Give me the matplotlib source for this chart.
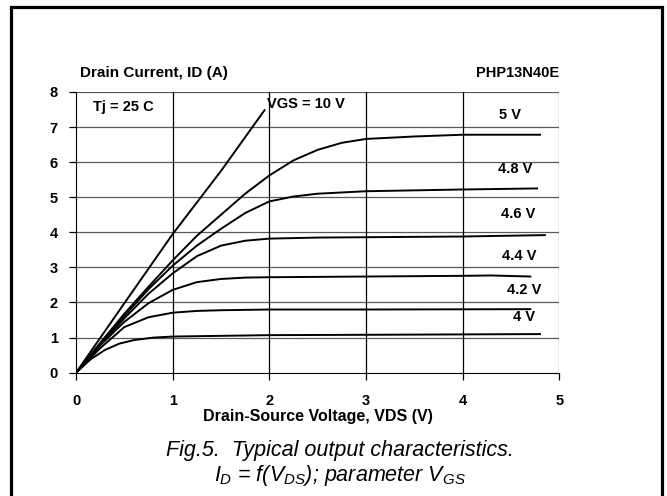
import matplotlib
matplotlib.use('Agg')
import matplotlib.pyplot as plt
from matplotlib.patches import Rectangle

# Output characteristics
vgs_10_x = [0, 0.5, 1.0, 1.5, 1.95]
vgs_10_y = [0, 1.98, 3.95, 5.75, 7.48]

vgs_5_x = [0, 0.25, 0.5, 0.75, 1.0, 1.25, 1.5, 1.75, 2.0, 2.25, 2.5, 2.75, 3.0, 3.5, 4.0, 4.8]
vgs_5_y = [0, 0.85, 1.68, 2.45, 3.2, 3.9, 4.5, 5.1, 5.62, 6.05, 6.35, 6.55, 6.66, 6.73, 6.78, 6.78]

vgs_48_x = [0, 0.25, 0.5, 0.75, 1.0, 1.25, 1.5, 1.75, 2.0, 2.25, 2.5, 3.0, 4.0, 4.77]
vgs_48_y = [0, 0.82, 1.62, 2.38, 3.05, 3.62, 4.1, 4.55, 4.88, 5.02, 5.1, 5.17, 5.22, 5.25]

vgs_46_x = [0, 0.25, 0.5, 0.75, 1.0, 1.25, 1.5, 1.75, 2.0, 2.5, 3.0, 4.0, 4.85]
vgs_46_y = [0, 0.8, 1.55, 2.25, 2.83, 3.32, 3.62, 3.76, 3.82, 3.85, 3.86, 3.88, 3.92]

vgs_44_x = [0, 0.25, 0.5, 0.75, 1.0, 1.25, 1.5, 1.75, 2.0, 3.0, 4.0, 4.3, 4.7]
vgs_44_y = [0, 0.78, 1.45, 1.98, 2.36, 2.58, 2.67, 2.71, 2.72, 2.74, 2.76, 2.77, 2.74]

vgs_42_x = [0, 0.25, 0.5, 0.75, 1.0, 1.25, 1.5, 2.0, 3.0, 4.7]
vgs_42_y = [0, 0.7, 1.3, 1.58, 1.71, 1.76, 1.78, 1.8, 1.8, 1.81]

vgs_40_x = [0, 0.15, 0.3, 0.45, 0.6, 0.8, 1.0, 1.5, 2.0, 3.0, 4.8]
vgs_40_y = [0, 0.38, 0.65, 0.83, 0.93, 1.0, 1.03, 1.05, 1.07, 1.08, 1.1]

curve_labels = ['5 V', '4.8 V', '4.6 V', '4.4 V', '4.2 V', '4 V']
label_x = [4.49, 4.54, 4.57, 4.59, 4.64, 4.63]
label_y = [7.35, 5.8, 4.51, 3.33, 2.36, 1.58]

x_ticks = [0, 1, 2, 3, 4, 5]
y_ticks = [0, 1, 2, 3, 4, 5, 6, 7, 8]

plt.rcParams['font.family'] = ['Liberation Sans', 'DejaVu Sans']
plt.rcParams['mathtext.fontset'] = 'custom'
plt.rcParams['mathtext.it'] = 'Liberation Sans:italic'
plt.rcParams['mathtext.rm'] = 'Liberation Sans:italic'

fig = plt.figure(figsize=(6.67, 4.96), dpi=100)
ax = fig.add_axes([0.114, 0.2486, 0.7246, 0.5661])

# outer frame (open at the bottom)
fig.patches.append(Rectangle((11 / 667, -0.05), 651 / 667, 1.05 - 6.7 / 496,
                             transform=fig.transFigure, fill=False,
                             edgecolor='black', linewidth=2.3))

for xs, ys in [(vgs_10_x, vgs_10_y), (vgs_5_x, vgs_5_y), (vgs_48_x, vgs_48_y),
               (vgs_46_x, vgs_46_y), (vgs_44_x, vgs_44_y), (vgs_42_x, vgs_42_y),
               (vgs_40_x, vgs_40_y)]:
    ax.plot(xs, ys, color='black', linewidth=1.4, zorder=3, solid_joinstyle='round')

for lab, lx, ly in zip(curve_labels, label_x, label_y):
    ax.text(lx, ly, lab, fontsize=10.5, fontweight='bold', ha='center', va='center')

ax.text(0.49, 7.58, 'Tj = 25 C', fontsize=10.5, fontweight='bold', ha='center', va='center')
ax.text(1.98, 7.66, 'VGS = 10 V', fontsize=10.5, fontweight='bold', ha='left', va='center')

ax.set_xlim(0, 5)
ax.set_ylim(0, 8)
ax.set_xticks(x_ticks)
ax.set_yticks(y_ticks)
for y in y_ticks[1:]:
    ax.axhline(y, color='0.35', linewidth=0.9, zorder=1)
for x in x_ticks[1:-1]:
    ax.axvline(x, color='black', linewidth=0.9, zorder=1)
ax.axvline(5, color='0.45', linewidth=0.9, zorder=1)

ax.spines['left'].set_color('black')
ax.spines['bottom'].set_color('black')
ax.spines['top'].set_visible(False)
ax.spines['right'].set_visible(False)
ax.tick_params(direction='out', length=5, width=0.9, labelsize=10.5, pad=10)
ax.tick_params(axis='y', pad=8)
for t in ax.get_xticklabels() + ax.get_yticklabels():
    t.set_fontweight('bold')

ax.set_xlabel('Drain-Source Voltage, VDS (V)', fontsize=11.5, fontweight='bold', labelpad=1)
fig.text(80 / 667, 1 - 73 / 496, 'Drain Current, ID (A)', fontsize=11,
         fontweight='bold', ha='left', va='center')
fig.text(559 / 667, 1 - 73 / 496, 'PHP13N40E', fontsize=10.5,
         fontweight='bold', ha='right', va='center')

fig.text(340 / 667, 1 - 456 / 496, 'Fig.5.  Typical output characteristics.',
         fontsize=15.5, style='italic', ha='center', va='baseline')
fig.text(340 / 667, 1 - 481 / 496, r'$I_D$ = f($V_{DS}$); parameter $V_{GS}$',
         fontsize=15.5, style='italic', ha='center', va='baseline')

fig.savefig('out.png', dpi=100)
